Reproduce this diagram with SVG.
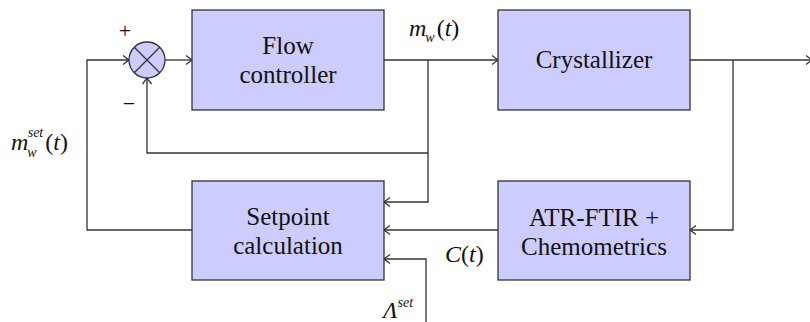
<svg xmlns="http://www.w3.org/2000/svg" width="810" height="322" viewBox="0 0 810 322">
<style>
.box{fill:#ccccff;stroke:#333;stroke-width:1.3}
.ln{fill:none;stroke:#333;stroke-width:1.3}
.arr{fill:none;stroke:#333;stroke-width:1.3;marker-end:url(#ah)}
.t{font-family:"Liberation Serif","Times New Roman",serif;font-size:25px;text-anchor:middle;fill:#111}
.m{font-family:"Liberation Serif","Times New Roman",serif;font-size:24px;font-style:italic;fill:#111}
</style>
<defs>
<marker id="ah" markerUnits="userSpaceOnUse" markerWidth="12" markerHeight="12" viewBox="-8 -6 10 12" refX="0" refY="0" orient="auto">
<path d="M -6 -4.5 L 0 0 L -6 4.5" fill="none" stroke="#333" stroke-width="1.3"/>
</marker>
</defs>
<g id="connectors">
<path class="arr" d="M 192 230 L 87 230 L 87 60 L 129 60"/>
<path class="arr" d="M 165 60 L 192 60"/>
<path class="arr" d="M 384 60 L 498 60"/>
<path class="arr" d="M 428 60 L 428 153 L 147 153 L 147 78"/>
<path class="arr" d="M 428 153 L 428 202 L 384 202"/>
<path class="arr" d="M 690 60 L 812 60"/>
<path class="arr" d="M 733 60 L 733 230 L 690 230"/>
<path class="arr" d="M 498 230 L 384 230"/>
<path class="arr" d="M 426 322 L 426 259 L 384 259"/>
</g>
<g id="sum">
<circle cx="147" cy="60" r="18" class="box"/>
<path class="ln" d="M 134.3 47.3 L 159.7 72.7 M 159.7 47.3 L 134.3 72.7"/>
</g>
<g id="flow-controller">
<rect class="box" x="192" y="10" width="192" height="100"/>
<text class="t" x="288" y="54">Flow</text>
<text class="t" x="288" y="83">controller</text>
</g>
<g id="crystallizer">
<rect class="box" x="498" y="10" width="192" height="100"/>
<text class="t" x="594" y="68">Crystallizer</text>
</g>
<g id="setpoint-calculation">
<rect class="box" x="192" y="181" width="192" height="99"/>
<text class="t" x="288" y="225">Setpoint</text>
<text class="t" x="288" y="254">calculation</text>
</g>
<g id="atr-ftir">
<rect class="box" x="498" y="181" width="192" height="99"/>
<text class="t" x="594" y="226">ATR-FTIR +</text>
<text class="t" x="594" y="255">Chemometrics</text>
</g>
<g id="labels">
<text class="t" x="125" y="38" style="font-size:22px">+</text>
<text class="t" x="129" y="111" style="font-size:22px">−</text>
<text class="m" x="11" y="150">m<tspan font-size="14" dy="7" dx="-1">w</tspan><tspan font-size="14" dy="-20" dx="-9">set</tspan><tspan font-style="normal" dy="13" dx="2">(</tspan>t<tspan font-style="normal">)</tspan></text>
<text class="m" x="409" y="36">m<tspan font-size="14" dy="6" dx="-1">w</tspan><tspan font-style="normal" dy="-6" dx="2">(</tspan>t<tspan font-style="normal">)</tspan></text>
<text class="m" x="445" y="262">C<tspan font-style="normal">(</tspan>t<tspan font-style="normal">)</tspan></text>
<text class="m" x="383" y="318">Λ<tspan font-size="14" dy="-11">set</tspan></text>
</g>
</svg>
